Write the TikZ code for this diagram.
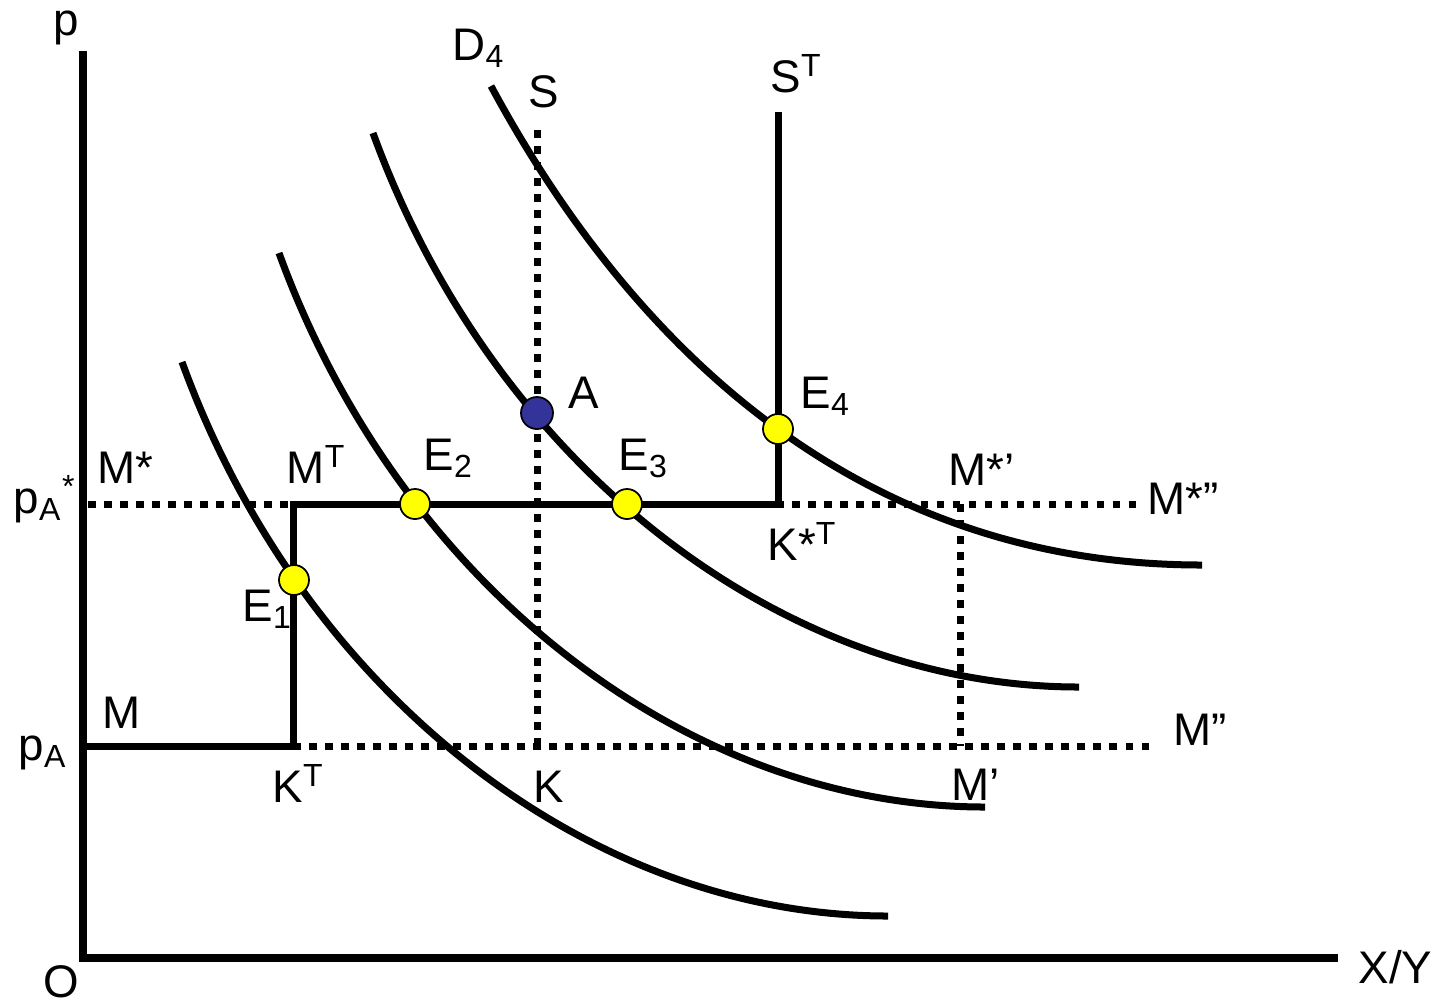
\documentclass[tikz,border=0pt]{standalone}
\usepackage{fontspec}
\setmainfont{Liberation Sans}
\definecolor{eqyellow}{HTML}{FFFF00}
\definecolor{eqnavy}{HTML}{333399}

\begin{document}
\begin{tikzpicture}[x=0.01cm,y=-0.01cm,
  lbl/.style={anchor=base west,inner sep=0pt,font=\fontsize{13}{15}\selectfont},
  axis/.style={line width=0.075cm},
  curve/.style={line width=0.07cm},
  tariff/.style={line width=0.07cm},
  guide/.style={line width=0.07cm,dash pattern=on 0.075cm off 0.085cm},
  eqpt/.style={circle,draw,line width=0.5pt,fill=eqyellow,inner sep=0pt,minimum size=0.3cm}]
  \useasboundingbox (0,0) rectangle (1439,1002);
  \coordinate (O) at (83,958);
  \coordinate (ptop) at (83,51);
  \coordinate (xend) at (1338,958);
  \coordinate (pA) at (83,746);
  \coordinate (pAs) at (88,504);
  \coordinate (KT) at (293,746);
  \coordinate (MT) at (293,504);
  \coordinate (KsT) at (778,504);
  \coordinate (STtop) at (778,112);
  \coordinate (Stop) at (537,130);
  \coordinate (K) at (537,746);
  \coordinate (Msp) at (960,504);
  \coordinate (Mp) at (960,746);
  \coordinate (Mspp) at (1140,504);
  \coordinate (Mpp) at (1150,746);
  \draw[guide] (pAs) -- (Mspp);
  \draw[guide] (KT) -- (Mpp);
  \draw[guide] (Stop) -- (K);
  \draw[guide] (Msp) -- (Mp);
  \draw[curve,shift={(-97,109)}] (279,253) .. controls (399,583) and (685,807) .. (985,807);
  \draw[curve] (279,253) .. controls (399,583) and (685,807) .. (985,807);
  \draw[curve,shift={(94,-120)}] (279,253) .. controls (399,583) and (685,807) .. (985,807);
  \draw[curve] (491,86) .. controls (621,327) and (842,565) .. (1202,565);
  \draw[tariff] (pA) -- (KT) -- (MT) -- (KsT) -- (STtop);
  \draw[axis] (ptop) -- (O) -- (xend);
  \node[eqpt] (E1) at (294,580) {};
  \node[eqpt] (E2) at (415,504) {};
  \node[eqpt] (E3) at (627,504) {};
  \node[eqpt] (E4) at (778,429) {};
  \node[eqpt,fill=eqnavy,minimum size=0.32cm] (A) at (537,413) {};
  \node[lbl] (plbl) at (53,35) {p};
  \node[lbl] (Olbl) at (43,997) {O};
  \node[lbl] (XYlbl) at (1358,983) {X/Y};
  \node[lbl] (D4lbl) at (452,60) {D\textsubscript{4}};
  \node[lbl] (Slbl) at (528,107) {S};
  \node[lbl] (STlbl) at (770,92) {S\textsuperscript{T}};
  \node[lbl] (Albl) at (568,408) {A};
  \node[lbl] (E4lbl) at (800,408) {E\textsubscript{4}};
  \node[lbl] (E2lbl) at (423,470) {E\textsubscript{2}};
  \node[lbl] (E3lbl) at (618,470) {E\textsubscript{3}};
  \node[lbl] (E1lbl) at (242,621) {E\textsubscript{1}};
  \node[lbl] (Mslbl) at (97,483) {M*};
  \node[lbl] (MTlbl) at (286,483) {M\textsuperscript{T}};
  \node[lbl] (pAslbl) at (13,513) {p\textsubscript{A}\textsuperscript{*}};
  \node[lbl] (Mlbl) at (102,728) {M};
  \node[lbl] (pAlbl) at (18,760) {p\textsubscript{A}};
  \node[lbl] (KTlbl) at (272,802) {K\textsuperscript{T}};
  \node[lbl] (Klbl) at (533,802) {K};
  \node[lbl] (KsTlbl) at (767,560) {K*\textsuperscript{T}};
  \node[lbl] (Msplbl) at (948,485) {M*’};
  \node[lbl] (Mspplbl) at (1147,514) {M*”};
  \node[lbl] (Mpplbl) at (1173,745) {M”};
  \node[lbl] (Mplbl) at (951,800) {M’};
\end{tikzpicture}
\end{document}
